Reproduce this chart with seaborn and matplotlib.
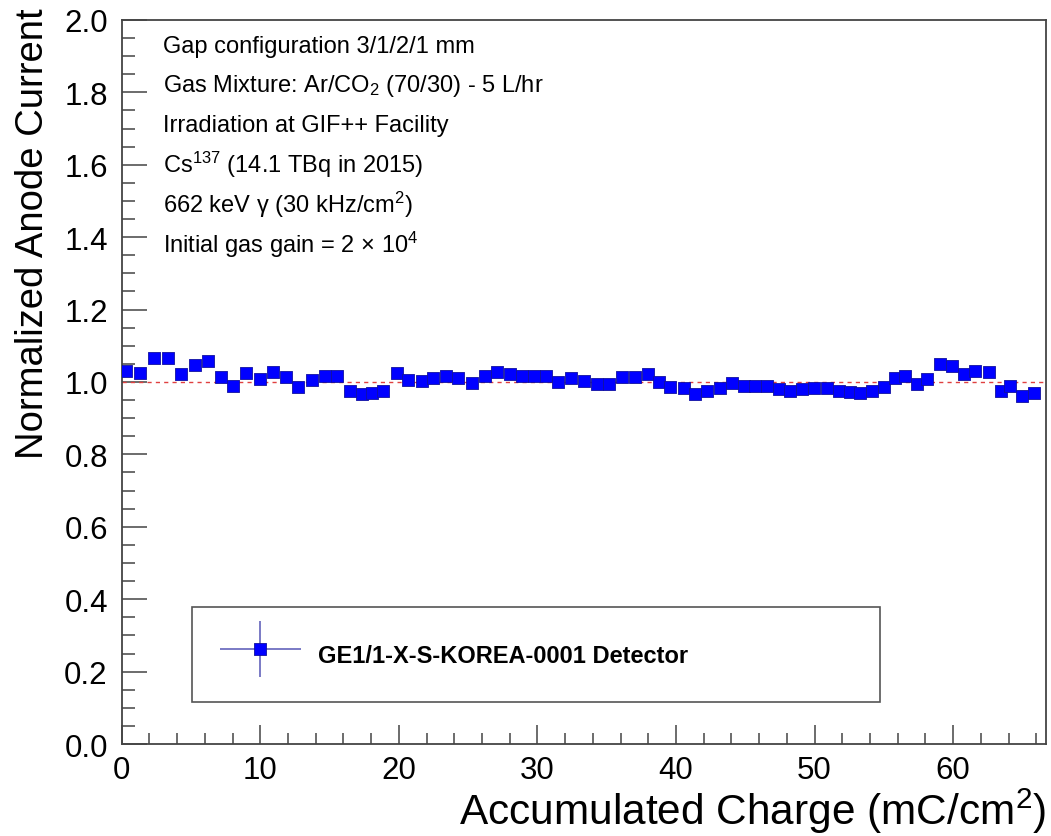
import numpy as np
import pandas as pd
import matplotlib
matplotlib.use("Agg")
import matplotlib.pyplot as plt
import seaborn as sns
from matplotlib.container import ErrorbarContainer
from matplotlib.legend_handler import HandlerErrorbar, HandlerTuple

# ---------------- data ----------------
charge = [0.31, 1.32, 2.35, 3.36, 4.28, 5.29, 6.25, 7.17, 8.06, 8.97,
          9.99, 10.90, 11.84, 12.75, 13.72, 14.68, 15.55, 16.48, 17.33, 18.05,
          18.89, 19.86, 20.69, 21.66, 22.50, 23.42, 24.30, 25.27, 26.23, 27.08,
          28.04, 28.88, 29.72, 30.64, 31.52, 32.44, 33.33, 34.30, 35.18, 36.10,
          37.06, 37.98, 38.74, 39.59, 40.55, 41.39, 42.24, 43.20, 44.04, 44.88,
          45.72, 46.57, 47.41, 48.25, 49.10, 49.94, 50.90, 51.74, 52.59, 53.31,
          54.15, 54.99, 55.83, 56.56, 57.40, 58.12, 59.08, 59.93, 60.77, 61.61,
          62.57, 63.42, 64.14, 64.98, 65.82]
current = [1.031, 1.024, 1.065, 1.065, 1.022, 1.047, 1.059, 1.013, 0.988, 1.024,
           1.008, 1.028, 1.013, 0.985, 1.006, 1.016, 1.016, 0.976, 0.967, 0.970,
           0.976, 1.025, 1.006, 1.004, 1.011, 1.016, 1.011, 0.997, 1.016, 1.028,
           1.022, 1.017, 1.017, 1.017, 1.001, 1.011, 1.004, 0.994, 0.994, 1.013,
           1.013, 1.022, 1.001, 0.987, 0.983, 0.967, 0.976, 0.983, 0.997, 0.990,
           0.988, 0.988, 0.981, 0.976, 0.981, 0.983, 0.983, 0.976, 0.972, 0.970,
           0.976, 0.985, 1.010, 1.017, 0.994, 1.008, 1.050, 1.045, 1.022, 1.031,
           1.028, 0.974, 0.988, 0.962, 0.970]
current_err = [0.004, 0.004, 0.009, 0.009, 0.004, 0.004, 0.004, 0.011, 0.004, 0.004,
               0.004, 0.004, 0.011, 0.004, 0.004, 0.004, 0.004, 0.004, 0.004, 0.004,
               0.011, 0.004, 0.004, 0.004, 0.004, 0.004, 0.004, 0.004, 0.004, 0.009,
               0.004, 0.004, 0.004, 0.004, 0.008, 0.004, 0.004, 0.004, 0.004, 0.004,
               0.004, 0.004, 0.013, 0.004, 0.004, 0.004, 0.004, 0.004, 0.007, 0.004,
               0.004, 0.004, 0.004, 0.004, 0.004, 0.004, 0.004, 0.004, 0.004, 0.004,
               0.004, 0.004, 0.004, 0.004, 0.004, 0.013, 0.004, 0.004, 0.004, 0.004,
               0.011, 0.004, 0.004, 0.004, 0.004]
charge_err = [0.3] * len(charge)

series_label = "GE1/1-X-S-KOREA-0001 Detector"
info_lines = [
    "Gap configuration 3/1/2/1 mm",
    "Gas Mixture: Ar/CO$_2$ (70/30) - 5 L/hr",
    "Irradiation at GIF++ Facility",
    "Cs$^{137}$ (14.1 TBq in 2015)",
    "662 keV γ (30 kHz/cm$^2$)",
    "Initial gas gain = 2 × 10$^4$",
]
x_label = "Accumulated Charge (mC/cm$^2$)"
y_label = "Normalized Anode Current"

df = pd.DataFrame({"charge": charge, "current": current})

# ---------------- style ----------------
sns.set_style("ticks")
plt.rcParams["font.family"] = ["Liberation Sans", "DejaVu Sans"]
plt.rcParams["mathtext.fontset"] = "custom"
plt.rcParams["mathtext.rm"] = "Liberation Sans"
plt.rcParams["mathtext.it"] = "Liberation Sans:italic"
plt.rcParams["mathtext.bf"] = "Liberation Sans:bold"
plt.rcParams["text.color"] = "black"
plt.rcParams["axes.labelcolor"] = "black"
plt.rcParams["xtick.labelcolor"] = "black"
plt.rcParams["ytick.labelcolor"] = "black"

fig = plt.figure(figsize=(10.51, 8.37), dpi=100)
ax = fig.add_axes([0.1158, 0.1099, 0.8794, 0.8651])

ax.axhline(1.0, color="#e04040", lw=1.0, ls=(0, (3, 3)), zorder=1)

err = ax.errorbar(charge, current, yerr=current_err, xerr=charge_err, fmt="none",
                  ecolor="#7070c0", elinewidth=1.3, zorder=2)
sns.scatterplot(data=df, x="charge", y="current", marker="s", s=75,
                color="#0000ff", edgecolor="#1010a0", linewidth=0.6, ax=ax, zorder=3)
scat = ax.collections[-1]

ax.set_xlim(0, 66.7)
ax.set_ylim(0, 2.0)
ax.set_xticks(np.arange(0, 61, 10))
ax.set_xticks(np.arange(0, 67, 2), minor=True)
ax.set_yticks(np.arange(0, 2.01, 0.2))
ax.set_yticks(np.arange(0, 2.01, 0.05), minor=True)
ax.set_yticklabels([f"{v:.1f}" for v in np.arange(0, 2.01, 0.2)])

for s in ax.spines.values():
    s.set_color("#444444")
    s.set_linewidth(1.3)
ax.tick_params(which="both", direction="in", color="#444444", width=1.1,
               labelsize=22.5, top=False, right=False)
ax.tick_params(axis="y", which="major", length=18, pad=10)
ax.tick_params(axis="y", which="minor", length=9)
ax.tick_params(axis="x", which="major", length=14, pad=8)
ax.tick_params(axis="x", which="minor", length=8)

ax.set_xlabel(x_label, fontsize=30.5, loc="right")
ax.set_ylabel(y_label, fontsize=27.5, loc="top")
ax.xaxis.set_label_coords(1.0, -0.058)
ax.yaxis.set_label_coords(-0.077, 1.018)

y_px = [47, 86, 126, 165, 205, 245]
for line, yp in zip(info_lines, y_px):
    ax.text(0.0447, (745 - yp) / 724, line, transform=ax.transAxes,
            fontsize=17, va="center", ha="left", color="black")

# legend: errorbar cross with the blue square on top
leg_fs = 17
leg_hh = 2.1
leg_desc = 0.35 * (leg_hh - 0.7)
leg_h = leg_hh - leg_desc
marker_yoff = ((leg_h - leg_desc) / 2) / leg_h

leg = ax.legend([(err, scat)], [series_label],
                handler_map={ErrorbarContainer: HandlerErrorbar(xerr_size=1.7, yerr_size=1.2),
                             tuple: HandlerTuple(ndivide=1)},
                loc="lower left", bbox_to_anchor=(0.076, 0.058, 0.744, 0.131),
                mode="expand", borderaxespad=0, scatterpoints=1,
                scatteryoffsets=[marker_yoff],
                handlelength=3.4, handleheight=leg_hh, handletextpad=0.72, borderpad=1.2,
                fancybox=False, framealpha=1, edgecolor="#555555",
                prop={"weight": "bold", "size": leg_fs})
leg.get_frame().set_linewidth(1.2)

fig.savefig("out.png", dpi=100)
